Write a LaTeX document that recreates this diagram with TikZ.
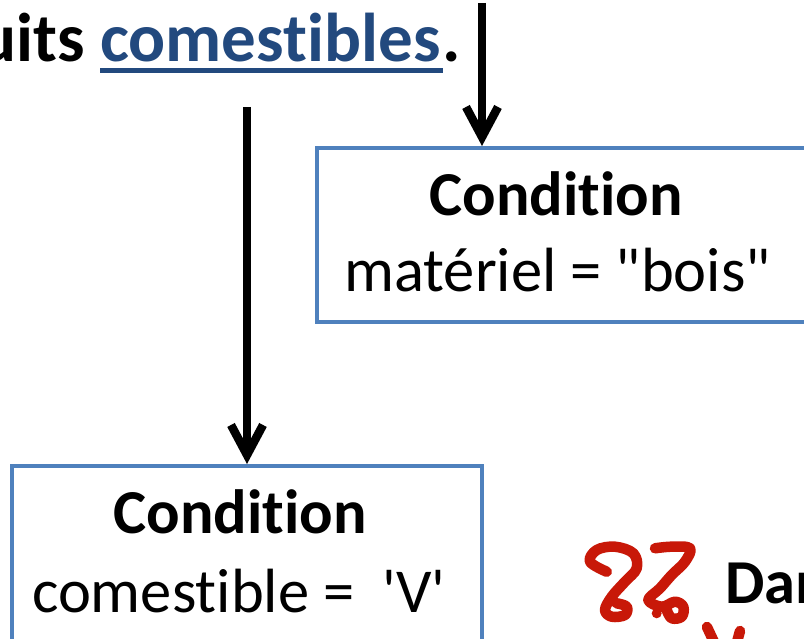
\documentclass[tikz,border=0pt]{standalone}
\usepackage{fontspec}
\setmainfont{Carlito}[Ligatures={TeXOff,NoCommon}]
\usetikzlibrary{arrows.meta}
\definecolor{boxblue}{RGB}{79,129,189}
\definecolor{tblue}{RGB}{34,73,126}
\definecolor{penred}{RGB}{200,24,8}
\tikzset{
  condbox/.style={draw=boxblue, line width=4pt, rectangle, inner sep=0pt, fill=white},
  titletext/.style={inner sep=0pt, font=\fontsize{62.5}{70}\selectfont\bfseries},
  valtext/.style={inner sep=0pt, font=\fontsize{62.5}{70}\selectfont},
  toptext/.style={inner sep=0pt, font=\fontsize{69}{78}\selectfont\bfseries},
  arr/.style={line width=8.5pt, -{Straight Barb[length=30pt, width=32pt]}},
  redpen/.style={penred, line width=10.5pt, line cap=round, line join=round},
}
\begin{document}
\begin{tikzpicture}[x=1pt, y=-1pt]
\clip (0,0) rectangle (804,639);
\fill[white] (0,0) rectangle (804,639);
% top sentence
\node[toptext, text=tblue, anchor=base west] (cw) at (100,62) {comestibles};
\node[toptext, anchor=base east] (uw) at ([xshift=-15pt]cw.base west) {uits};
\node[toptext, anchor=base west] (pd) at ([xshift=2pt]cw.base east) {.};
\draw[tblue, line width=4.5pt] ([yshift=-8.5pt]cw.base west) -- ([yshift=-8.5pt, xshift=2pt]cw.base east);
% boxes
\node[condbox, minimum width=513pt, minimum height=174pt] (b1) at (573.5,235) {};
\node[condbox, minimum width=470pt, minimum height=234pt] (b2) at (247,583) {};
\node[titletext, anchor=base] (c1) at (556,216) {Condition};
\node[valtext, anchor=base] (v1) at (557.5,292) {matériel = "bois"};
\node[titletext, anchor=base] (c2) at (240,533) {Condition};
\node[valtext, anchor=base] (v2) at (239,612) {comestible =\ \ 'V'};
% arrows
\coordinate (s1) at (482,3);
\coordinate (s2) at (247,107);
\draw[arr] (s1) -- (s1 |- b1.north);
\draw[arr] (s2) -- (s2 |- b2.north);
% red hand-drawn marks
\draw[redpen] plot[smooth, tension=0.6] coordinates {(606.7,571.7) (590,561.7) (596.7,550) (615,546.7) (633.3,553.3) (636.7,568.3) (625,581.7) (611.7,596.7) (605,610) (611.7,616.7) (625,615) (626.7,606.7) (616.7,603.3)};
\draw[redpen] plot[smooth, tension=0.6] coordinates {(655,548.3) (671.7,546.7) (690,548.3) (685,561.7) (671.7,575) (660,588.3) (648.3,600) (661.7,606.7) (675,601.7) (683.3,606.7) (681.7,616.7) (671.7,618.3) (666.7,610)};
\fill[penred] (656.7,613.3) circle (5);
\draw[redpen] (707,627) -- (714,642);
\draw[redpen] (740,631) -- (737,642);
% partial word
\node[titletext, anchor=base west] (dan) at (725,603) {Dan};
\end{tikzpicture}
\end{document}
